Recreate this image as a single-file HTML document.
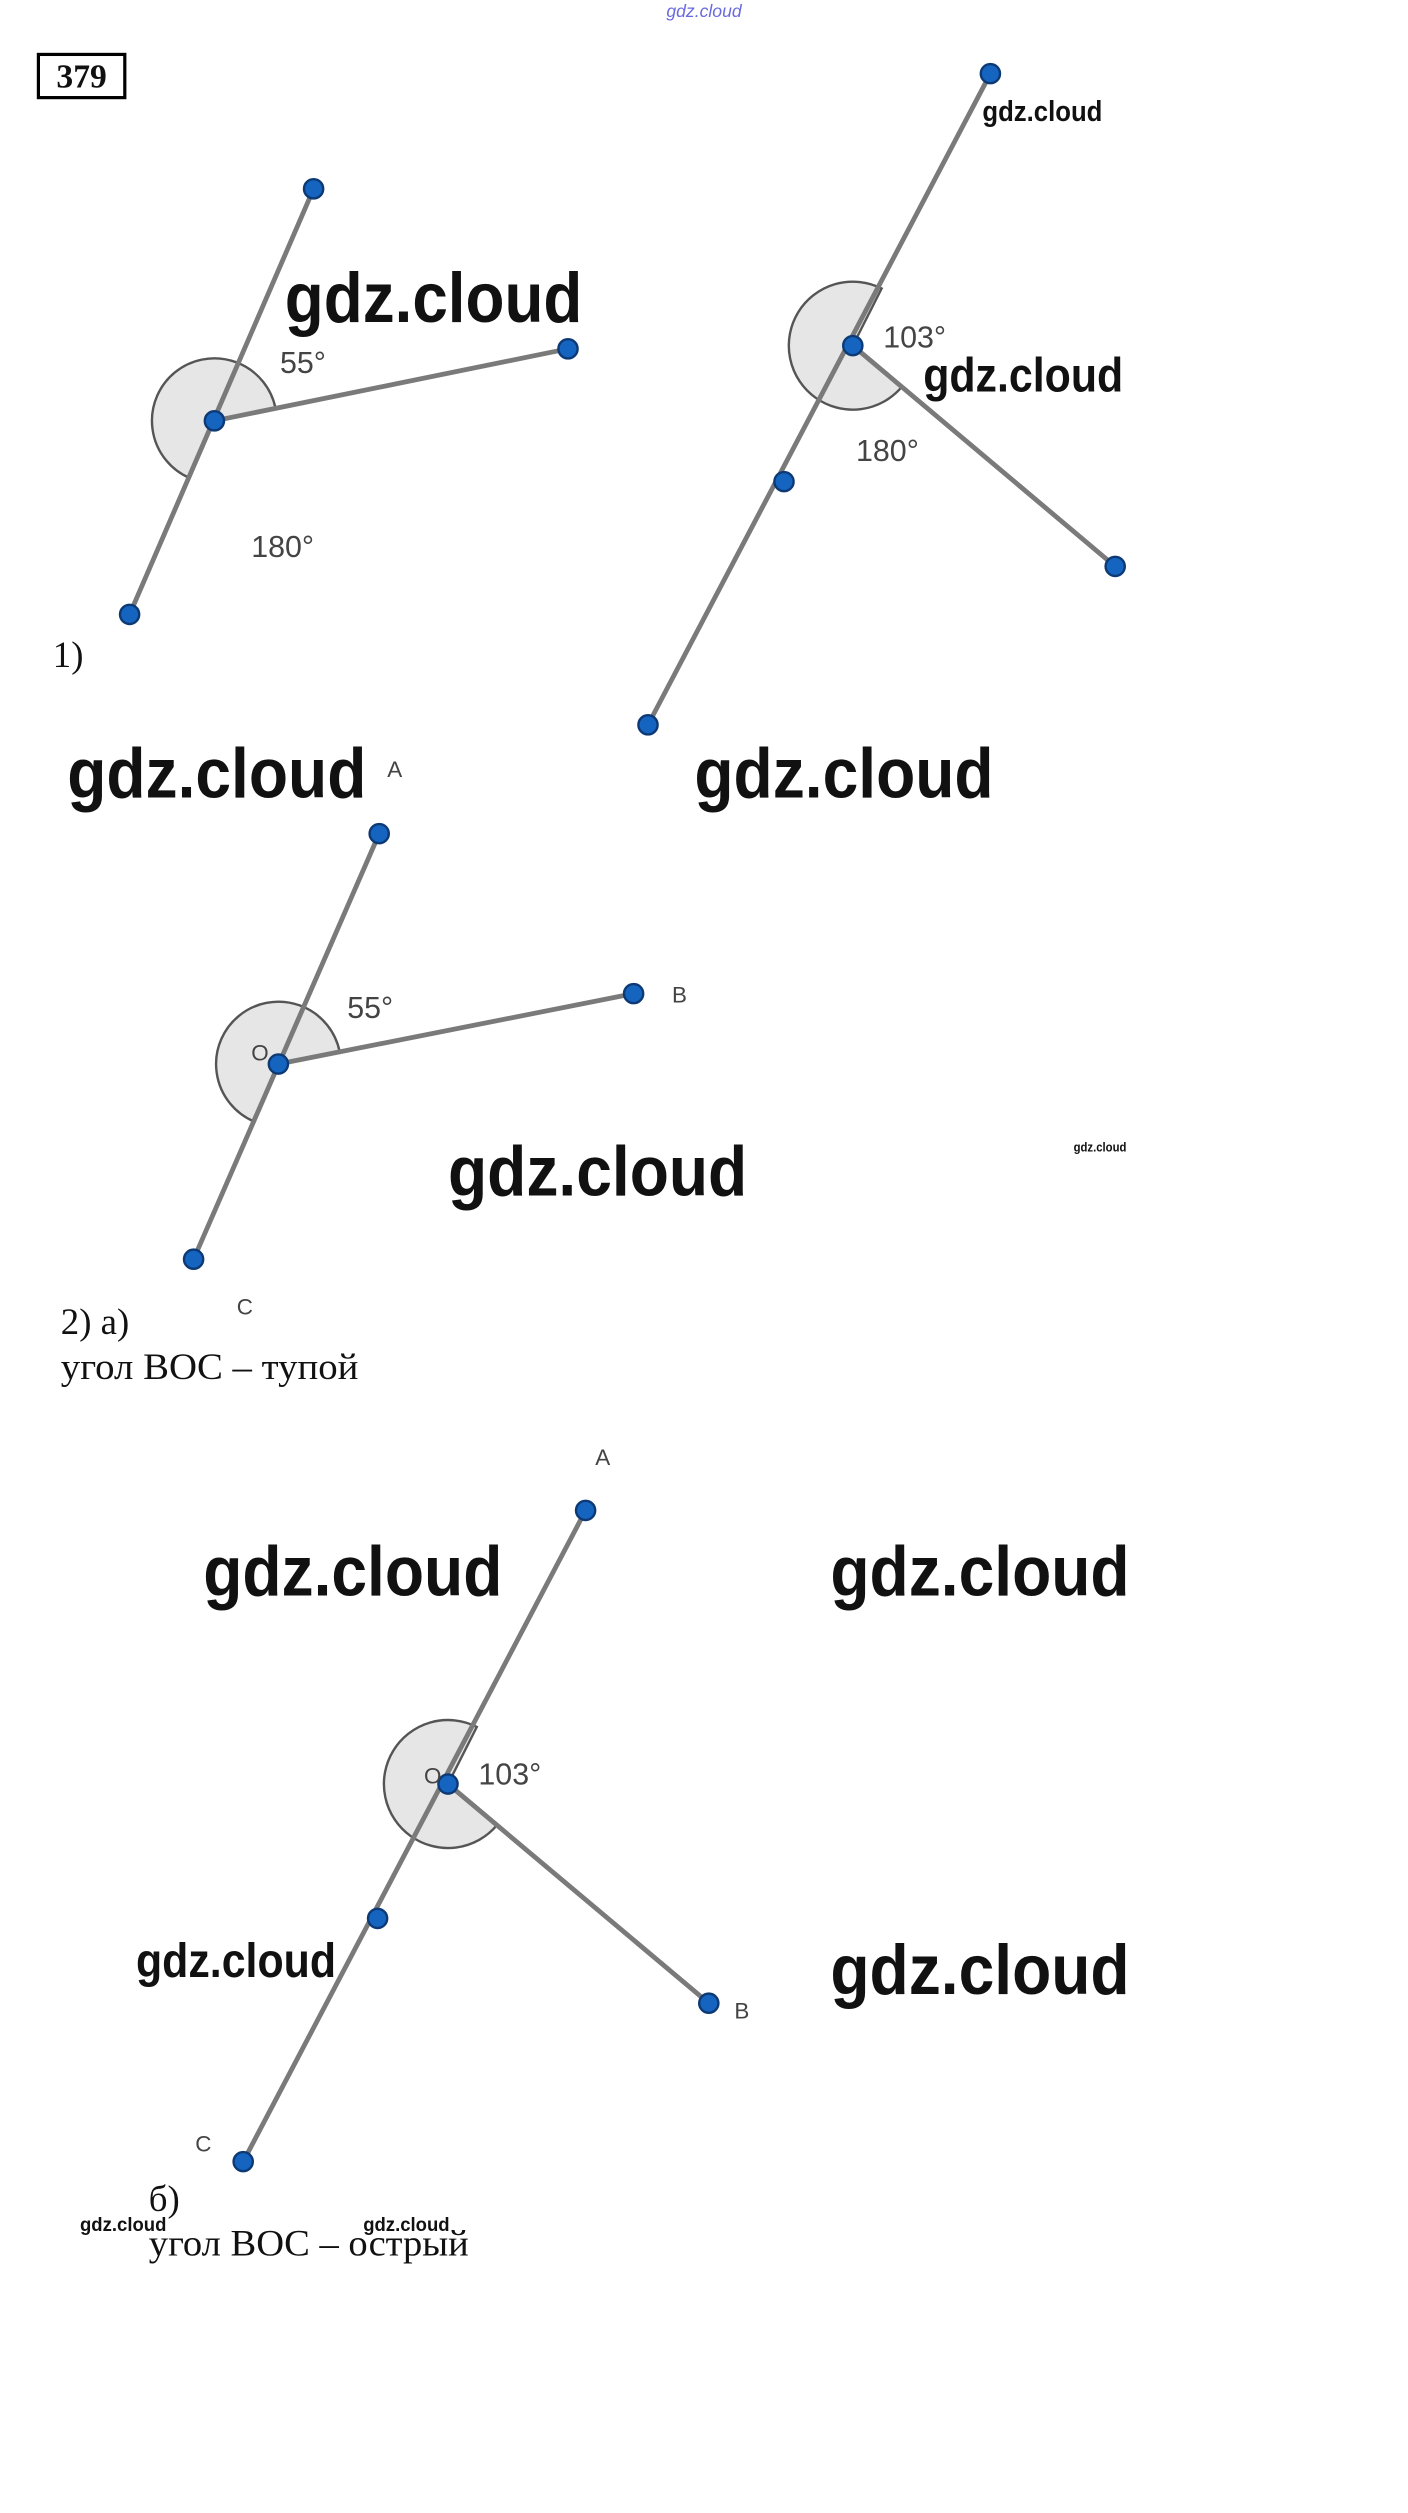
<!DOCTYPE html>
<html><head><meta charset="utf-8"><style>
html,body{margin:0;padding:0;background:#fff;}
svg{display:block;}
.wm{font-family:"Liberation Sans",sans-serif;font-weight:bold;fill:#111;}
.lbl{font-family:"Liberation Sans",sans-serif;fill:#444;}
.ser{font-family:"Liberation Serif",serif;fill:#111;}
</style></head><body>
<svg width="1408" height="2513" viewBox="0 0 880 1570.6" xmlns="http://www.w3.org/2000/svg">
<g dominant-baseline="central">
<text x="440" y="7" font-size="11" text-anchor="middle" class="lbl" style="fill:#6a6adf;font-style:italic">gdz.cloud</text>
<rect x="24" y="34" width="54" height="27" fill="none" stroke="#000" stroke-width="2"/>
<text x="51" y="48" font-size="21" text-anchor="middle" class="ser" font-weight="bold">379</text>

<g fill="#e6e6e6" stroke="#555" stroke-width="1.5">
<path d="M134,263 L172.2,255.2 A39,39 0 1 0 118.4,298.7 Z"/>
<path d="M533,216 L551,180.3 A40,40 0 1 0 563.6,241.8 Z"/>
<path d="M174,665 L212.3,657.4 A39,39 0 1 0 158.5,700.8 Z"/>
<path d="M280,1115 L298,1079.3 A40,40 0 1 0 310.6,1140.7 Z"/>
</g>
<g stroke="#7a7a7a" stroke-width="3" stroke-linecap="round">
<line x1="196" y1="118" x2="81" y2="384"/><line x1="134" y1="263" x2="355" y2="218"/>
<line x1="619" y1="46" x2="405" y2="453"/><line x1="533" y1="216" x2="697" y2="354"/>
<line x1="237" y1="521" x2="121" y2="787"/><line x1="174" y1="665" x2="396" y2="621"/>
<line x1="366" y1="944" x2="152" y2="1351"/><line x1="280" y1="1115" x2="443" y2="1252"/>
</g>
<g fill="#1565c0" stroke="#0d3a75" stroke-width="1.5">
<circle cx="196" cy="118" r="6"/><circle cx="134" cy="263" r="6"/><circle cx="355" cy="218" r="6"/><circle cx="81" cy="384" r="6"/>
<circle cx="619" cy="46" r="6"/><circle cx="533" cy="216" r="6"/><circle cx="490" cy="301" r="6"/><circle cx="405" cy="453" r="6"/><circle cx="697" cy="354" r="6"/>
<circle cx="237" cy="521" r="6"/><circle cx="174" cy="665" r="6"/><circle cx="396" cy="621" r="6"/><circle cx="121" cy="787" r="6"/>
<circle cx="366" cy="944" r="6"/><circle cx="280" cy="1115" r="6"/><circle cx="236" cy="1199" r="6"/><circle cx="152" cy="1351" r="6"/><circle cx="443" cy="1252" r="6"/>
</g>

<g class="lbl" font-size="19">
<text x="175" y="227">55°</text><text x="157" y="342">180°</text>
<text x="552" y="211">103°</text><text x="535" y="282">180°</text>
<text x="217" y="630">55°</text><text x="299" y="1109">103°</text>
</g>
<g class="lbl" font-size="14">
<text x="242" y="481">A</text><text x="420" y="622">B</text><text x="157" y="658">O</text><text x="148" y="817">C</text>
<text x="372" y="911">A</text><text x="459" y="1257">B</text><text x="122" y="1340">C</text><text x="265" y="1110">O</text>
</g>
<g class="ser" font-size="23">
<text x="33" y="409">1)</text>
<text x="38" y="826">2) а)</text>
<text x="38" y="854" textLength="186" lengthAdjust="spacingAndGlyphs">угол BOC – тупой</text>
<text x="93" y="1374">б)</text>
<text x="93" y="1402" textLength="200" lengthAdjust="spacingAndGlyphs">угол BOC – острый</text>
</g>
<g class="wm">
<text x="178" y="186" font-size="44" textLength="186" lengthAdjust="spacingAndGlyphs">gdz.cloud</text>
<text x="577" y="235" font-size="30" textLength="125" lengthAdjust="spacingAndGlyphs">gdz.cloud</text>
<text x="614" y="70" font-size="18" textLength="75" lengthAdjust="spacingAndGlyphs">gdz.cloud</text>
<text x="42" y="483" font-size="44" textLength="187" lengthAdjust="spacingAndGlyphs">gdz.cloud</text>
<text x="434" y="483" font-size="44" textLength="187" lengthAdjust="spacingAndGlyphs">gdz.cloud</text>
<text x="280" y="732" font-size="44" textLength="187" lengthAdjust="spacingAndGlyphs">gdz.cloud</text>
<text x="671" y="717" font-size="8" textLength="33" lengthAdjust="spacingAndGlyphs">gdz.cloud</text>
<text x="127" y="982" font-size="44" textLength="187" lengthAdjust="spacingAndGlyphs">gdz.cloud</text>
<text x="519" y="982" font-size="44" textLength="187" lengthAdjust="spacingAndGlyphs">gdz.cloud</text>
<text x="519" y="1231" font-size="44" textLength="187" lengthAdjust="spacingAndGlyphs">gdz.cloud</text>
<text x="85" y="1226" font-size="30" textLength="125" lengthAdjust="spacingAndGlyphs">gdz.cloud</text>
<text x="50" y="1391" font-size="12" textLength="54" lengthAdjust="spacingAndGlyphs">gdz.cloud</text>
<text x="227" y="1391" font-size="12" textLength="54" lengthAdjust="spacingAndGlyphs">gdz.cloud</text>
</g>
</g>
</svg>
</body></html>
